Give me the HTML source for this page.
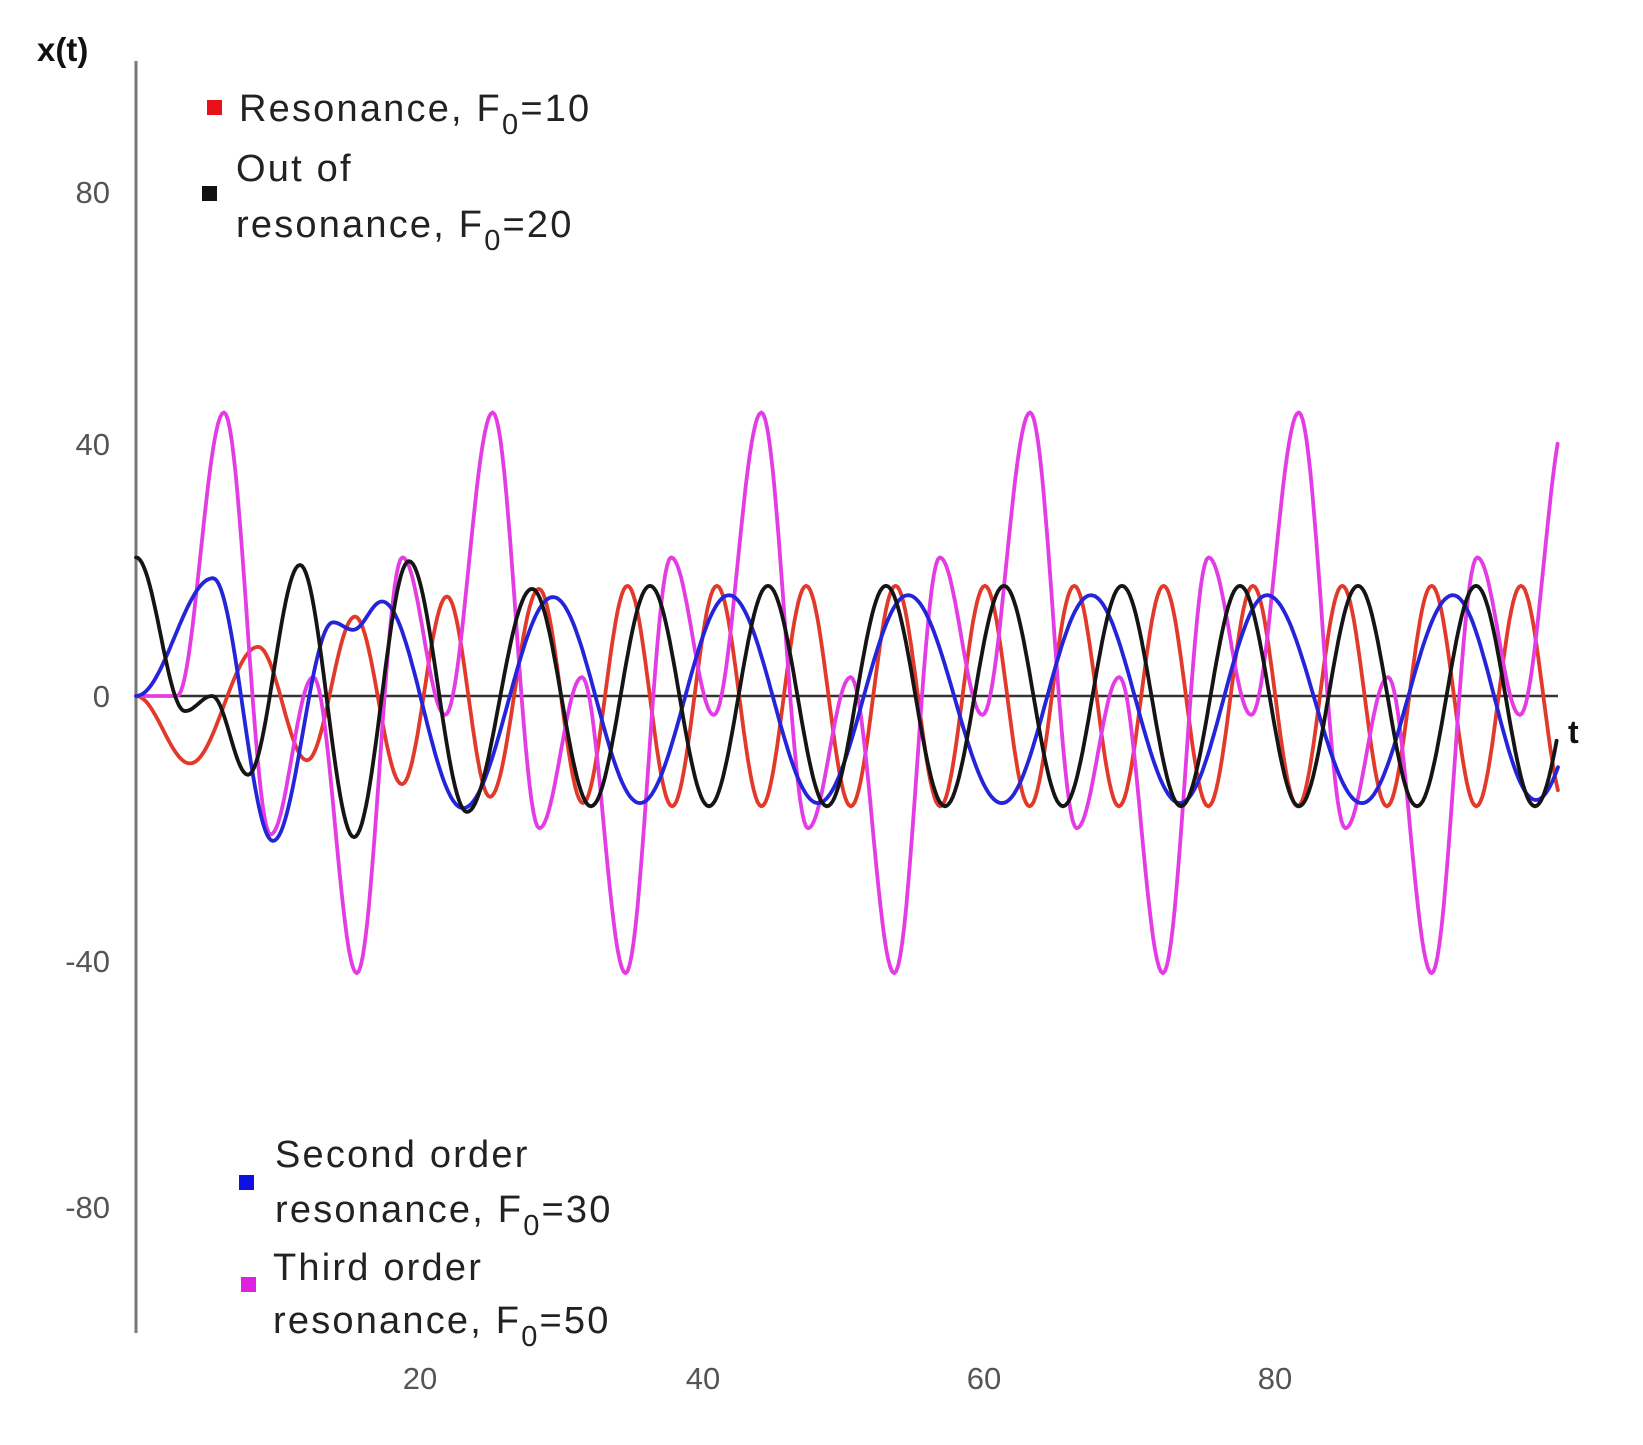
<!DOCTYPE html>
<html><head><meta charset="utf-8">
<style>
html,body{margin:0;padding:0;background:#fff;}
svg{display:block;}
text{font-family:"Liberation Sans",Arial,sans-serif;}
</style></head>
<body>
<svg id="s" width="1643" height="1445" viewBox="0 0 1643 1445" xmlns="http://www.w3.org/2000/svg">
<rect width="1643" height="1445" fill="#fff"/>
<line x1="136" y1="61" x2="136" y2="1333" stroke="#777" stroke-width="3"/>
<line x1="136" y1="696" x2="1558" y2="696" stroke="#333" stroke-width="2.5"/>
<text x="37" y="61" font-size="33" font-weight="bold" fill="#111">x(t)</text>
<text x="1568" y="743" font-size="32" font-weight="bold" fill="#111">t</text>
<g font-size="31" fill="#555" text-anchor="end">
<text x="110" y="203">80</text>
<text x="110" y="455">40</text>
<text x="110" y="707">0</text>
<text x="110" y="972">-40</text>
<text x="110" y="1218">-80</text>
</g>
<g font-size="31" fill="#555" text-anchor="middle">
<text x="420" y="1389">20</text>
<text x="703" y="1389">40</text>
<text x="984" y="1389">60</text>
<text x="1275" y="1389">80</text>
</g>
<g id="series" fill="none" stroke-width="3.8" stroke-linejoin="round" stroke-linecap="round"></g>
<g font-size="38" fill="#222" letter-spacing="2.2">
<rect x="207" y="100" width="15" height="15" fill="#e8101a"/>
<text x="239" y="121">Resonance, F<tspan font-size="29" dy="13">0</tspan><tspan dy="-13">=10</tspan></text>
<rect x="202" y="186" width="15" height="15" fill="#111"/>
<text x="236" y="181">Out of</text>
<text x="236" y="237">resonance, F<tspan font-size="29" dy="13">0</tspan><tspan dy="-13">=20</tspan></text>
<rect x="239" y="1175" width="15" height="15" fill="#1010e0"/>
<text x="275" y="1167">Second order</text>
<text x="275" y="1222">resonance, F<tspan font-size="29" dy="13">0</tspan><tspan dy="-13">=30</tspan></text>
<rect x="241" y="1277" width="15" height="15" fill="#e020e0"/>
<text x="273" y="1280">Third order</text>
<text x="273" y="1333">resonance, F<tspan font-size="29" dy="13">0</tspan><tspan dy="-13">=50</tspan></text>
</g>
</svg>
<script>
(function(){
var Y0=696,K=6.3,XMAX=1558;
function path(pts){
  var d="";
  for(var i=0;i<pts.length-1;i++){
    var a=pts[i],b=pts[i+1];
    var n=Math.max(6,Math.ceil((b[0]-a[0])/2));
    for(var j=(i==0?0:1);j<=n;j++){
      var s=j/n,x=a[0]+s*(b[0]-a[0]);
      if(x>XMAX){break;}
      var v=a[1]+(b[1]-a[1])*(1-Math.cos(Math.PI*s))/2;
      d+=(d?"L":"M")+x.toFixed(1)+" "+(Y0-K*v).toFixed(1);
    }
    if(b[0]>XMAX){break;}
  }
  return d;
}
var red=[[136,0],[190,-10.7],[258,7.8],[307,-10.2],[355,12.6],[402,-14],[447,15.8],[490,-16],[539,17],[583,-17]];
var P=89.35;for(var k=0;k<12;k++){red.push([627.5+k*P,17.5]);red.push([627.5+k*P+P/2,-17.5]);}
var blk=[[136,22],[185,-2.4],[212,0],[248,-12.5],[300,20.8],[354,-22.4],[409,21.4],[467,-18.4],[532,17]];
var Pb=118;for(var k=0;k<10;k++){blk.push([591+k*Pb,-17.5]);blk.push([591+k*Pb+Pb/2,17.5]);}
var blu=[[136,0],[213,18.7],[273,-23],[333,11.7],[353,10.5],[382,15],[463,-17.8],[553,15.7],[640,-17],[729,16],[818,-17],[908,16],[1002,-17],[1091,16],[1180,-17],[1267,16],[1362,-17],[1453,16],[1536,-16.5],[1620,16]];
var mag=[[136,0],[177,0]];
var Pm=268.7,off=[0,47,90,134,180,223],val=[45,-21,3,-44,22,-3];
for(var k=0;k<6;k++){for(var i=0;i<6;i++){var v=val[i];if(k==0&&i==1)v=-22;mag.push([224+k*Pm+off[i]*Pm/271,v]);}}
var g=document.getElementById("series");
function add(pts,c){var p=document.createElementNS("http://www.w3.org/2000/svg","path");p.setAttribute("d",path(pts));p.setAttribute("stroke",c);g.appendChild(p);}
add(red,"#e23a2a");
add(mag,"#e43ce4");
add(blu,"#2424d8");
add(blk,"#151515");
})();
</script>
</body></html>
